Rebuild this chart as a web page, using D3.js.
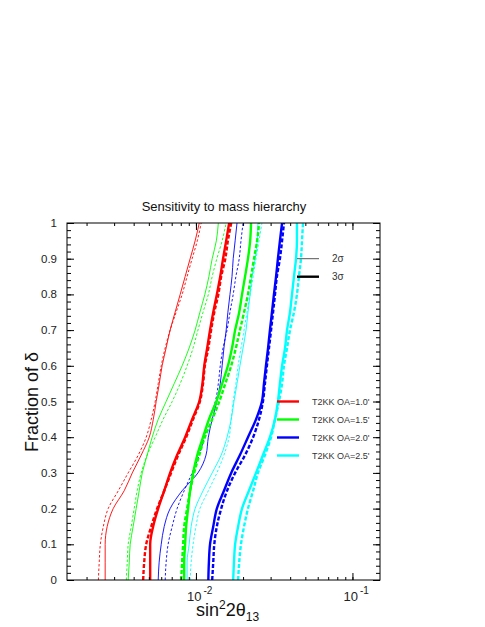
<!DOCTYPE html>
<html><head><meta charset="utf-8">
<script src="https://cdn.jsdelivr.net/npm/d3@7"></script>
<style>body{margin:0;background:#fff}svg{display:block}text{font-family:"Liberation Sans",Arial,sans-serif}</style>
</head><body><svg id="c" width="485" height="627"></svg>
<script>
// Fraction of delta (shared y samples)
const fractions = [0,0.05,0.1,0.15,0.2,0.25,0.3,0.35,0.4,0.45,0.5,0.55,0.6,0.65,0.7,0.75,0.8,0.85,0.9,0.95,1.0];

// sin^2 2theta13 values, OA=1.0 (red)
const red2sA = [0.00263,0.00263,0.00263,0.00271,0.00296,0.00348,0.00392,0.00447,0.00503,0.00534,0.00557,0.00583,0.00608,0.00645,0.00684,0.00736,0.00793,0.00853,0.00918,0.00988,0.0105];
const red2sB = [0.00238,0.00241,0.00245,0.00256,0.00275,0.00319,0.00369,0.00428,0.00481,0.00518,0.00549,0.00574,0.00600,0.00636,0.00684,0.00747,0.00816,0.00878,0.00945,0.0102,0.0108];
const red3sA = [0.00510,0.00510,0.00510,0.00533,0.00574,0.00627,0.00684,0.00758,0.00853,0.00945,0.0105,0.0110,0.0113,0.0118,0.0123,0.0129,0.0136,0.0143,0.0149,0.0156,0.0163];
const red3sB = [0.00460,0.00467,0.00481,0.00518,0.00565,0.00627,0.00694,0.00770,0.00866,0.00959,0.0106,0.0111,0.0114,0.0120,0.0125,0.0131,0.0139,0.0145,0.0154,0.0160,0.0168];
// OA=1.5 (green)
const green2sA = [0.00369,0.00375,0.00380,0.00397,0.00415,0.00434,0.00454,0.00488,0.00525,0.00574,0.00645,0.00726,0.00816,0.00905,0.00988,0.0106,0.0114,0.0121,0.0127,0.0135,0.0139];
const green2sB = [0.00359,0.00364,0.00369,0.00386,0.00403,0.00421,0.00447,0.00488,0.00549,0.00617,0.00705,0.00793,0.00878,0.00959,0.0103,0.0111,0.0120,0.0127,0.0136,0.0147,0.0156];
const green3sA = [0.00841,0.00841,0.00853,0.00866,0.00891,0.00918,0.00959,0.0102,0.0111,0.0121,0.0135,0.0147,0.0160,0.0170,0.0178,0.0189,0.0197,0.0206,0.0215,0.0222,0.0225];
const green3sB = [0.00804,0.00816,0.00828,0.00841,0.00878,0.00918,0.00974,0.0105,0.0114,0.0127,0.0141,0.0154,0.0168,0.0180,0.0191,0.0203,0.0215,0.0225,0.0235,0.0246,0.0253];
// OA=2.0 (blue)
const blue2sA = [0.00574,0.00582,0.00600,0.00627,0.00684,0.00816,0.0103,0.0116,0.0120,0.0127,0.0136,0.0143,0.0147,0.0151,0.0156,0.0160,0.0165,0.0170,0.0173,0.0178,0.0183];
const blue2sB = [0.00636,0.00645,0.00664,0.00705,0.00758,0.00841,0.00945,0.0105,0.0113,0.0121,0.0133,0.0139,0.0143,0.0149,0.0158,0.0165,0.0173,0.0180,0.0189,0.0194,0.0200];
const blue3sA = [0.0120,0.0121,0.0123,0.0129,0.0136,0.0151,0.0168,0.0191,0.0215,0.0242,0.0264,0.0272,0.0280,0.0289,0.0297,0.0306,0.0315,0.0325,0.0334,0.0344,0.0355];
const blue3sB = [0.0127,0.0129,0.0131,0.0136,0.0145,0.0158,0.0178,0.0206,0.0232,0.0253,0.0268,0.0276,0.0284,0.0293,0.0302,0.0311,0.0320,0.0329,0.0344,0.0355,0.0365];
// OA=2.5 (cyan)
const cyan2sA = [0.00878,0.00878,0.00905,0.00932,0.00988,0.0111,0.0127,0.0145,0.0158,0.0168,0.0175,0.0183,0.0191,0.0200,0.0209,0.0215,0.0222,0.0228,0.0239,0.0246,0.0249];
const cyan2sB = [0.00918,0.00932,0.00959,0.0100,0.0106,0.0120,0.0136,0.0151,0.0163,0.0168,0.0173,0.0180,0.0186,0.0194,0.0203,0.0212,0.0222,0.0232,0.0242,0.0253,0.0264];
const cyan3sA = [0.0173,0.0175,0.0178,0.0186,0.0197,0.0218,0.0242,0.0268,0.0297,0.0320,0.0334,0.0344,0.0355,0.0371,0.0382,0.0399,0.0411,0.0423,0.0436,0.0442,0.0442];
const cyan3sB = [0.0186,0.0189,0.0194,0.0203,0.0215,0.0232,0.0249,0.0276,0.0302,0.0320,0.0339,0.0355,0.0365,0.0382,0.0399,0.0423,0.0442,0.0455,0.0469,0.0476,0.0483];

const seriesNames = ["T2KK OA=1.0'","T2KK OA=1.5'","T2KK OA=2.0'","T2KK OA=2.5'"];
const seriesColors = ["#ff0000","#00ff00","#0000ff","#00ffff"];
const yTicks = [0,0.1,0.2,0.3,0.4,0.5,0.6,0.7,0.8,0.9,1];
const yTickLabels = ["0","0.1","0.2","0.3","0.4","0.5","0.6","0.7","0.8","0.9","1"];
const xMajor = [0.01,0.1];
const xMajorExp = ["-2","-1"];
const sigmaLabels = ["2σ","3σ"];

const svg = d3.select("#c");
const L=67, R=380, T=223, B=580;
const x = d3.scaleLog().domain([0.0015,0.15]).range([L,R]);
const y = d3.scaleLinear().domain([0,1]).range([B,T]);

svg.append("defs").append("clipPath").attr("id","clip")
  .append("rect").attr("x",L).attr("y",T).attr("width",R-L).attr("height",B-T);

const curves = [
  {v:red2sA,c:0,th:false,d:false},{v:red2sB,c:0,th:false,d:true},
  {v:green2sA,c:1,th:false,d:false},{v:green2sB,c:1,th:false,d:true},
  {v:blue2sA,c:2,th:false,d:false},{v:blue2sB,c:2,th:false,d:true},
  {v:cyan2sA,c:3,th:false,d:false},{v:cyan2sB,c:3,th:false,d:true},
  {v:red3sA,c:0,th:true,d:false},{v:red3sB,c:0,th:true,d:true},
  {v:green3sA,c:1,th:true,d:false},{v:green3sB,c:1,th:true,d:true},
  {v:blue3sA,c:2,th:true,d:false},{v:blue3sB,c:2,th:true,d:true},
  {v:cyan3sA,c:3,th:true,d:false},{v:cyan3sB,c:3,th:true,d:true}
];
const line = d3.line().x(d=>x(d[0])).y(d=>y(d[1])).curve(d3.curveMonotoneY);
const g = svg.append("g").attr("clip-path","url(#clip)");
curves.forEach(cv=>{
  g.append("path").datum(cv.v.map((v,i)=>[v,fractions[i]]))
   .attr("d",line).attr("fill","none")
   .attr("stroke",seriesColors[cv.c])
   .attr("stroke-width",cv.th?2.4:0.9)
   .attr("stroke-dasharray",cv.d?(cv.th?"4,2":"2.5,2"):null);
});

// Axes (ticks inward on all four sides)
const yMinor = d3.range(0,1.0001,0.02);
svg.append("g").attr("transform",`translate(${L},0)`).call(d3.axisRight(y).tickValues(yMinor).tickSize(4).tickFormat(""));
svg.append("g").attr("transform",`translate(${R},0)`).call(d3.axisLeft(y).tickValues(yMinor).tickSize(4).tickFormat(""));
svg.append("g").attr("transform",`translate(${L},0)`).call(d3.axisRight(y).tickValues(yTicks).tickSize(7).tickFormat(""));
svg.append("g").attr("transform",`translate(${R},0)`).call(d3.axisLeft(y).tickValues(yTicks).tickSize(7).tickFormat(""));
const xMinor = [];
[0.001,0.01,0.1].forEach(dec=>{for(let k=1;k<10;k++){const v=dec*k; if(v>=0.0015&&v<=0.15) xMinor.push(v);}});
svg.append("g").attr("transform",`translate(0,${B})`).call(d3.axisTop(x).tickValues(xMinor).tickSize(3).tickFormat(""));
svg.append("g").attr("transform",`translate(0,${T})`).call(d3.axisBottom(x).tickValues(xMinor).tickSize(3).tickFormat(""));
svg.append("g").attr("transform",`translate(0,${B})`).call(d3.axisTop(x).tickValues(xMajor).tickSize(7).tickFormat(""));
svg.append("g").attr("transform",`translate(0,${T})`).call(d3.axisBottom(x).tickValues(xMajor).tickSize(7).tickFormat(""));
svg.selectAll(".domain").remove();
svg.selectAll(".tick line").attr("stroke","#000").attr("stroke-width",1);
svg.append("rect").attr("x",L).attr("y",T).attr("width",R-L).attr("height",B-T)
  .attr("fill","none").attr("stroke","#000").attr("stroke-width",1);

// Y tick labels
svg.selectAll(".ylab").data(yTicks).enter().append("text")
  .attr("x",57).attr("y",d=>y(d)+4).attr("text-anchor","end")
  .attr("font-size",11.5).attr("fill","#222").text((d,i)=>yTickLabels[i]);
// X tick labels
xMajor.forEach((v,i)=>{
  const t = svg.append("text").attr("x",x(v)-9).attr("y",601).attr("font-size",13).attr("fill","#222");
  t.append("tspan").text("10");
  t.append("tspan").attr("dy",-7).attr("font-size",10).attr("dx",2).text(xMajorExp[i]);
});
// Axis titles
const xt = svg.append("text").attr("x",196).attr("y",616).attr("font-size",18).attr("fill","#111");
xt.append("tspan").text("sin");
xt.append("tspan").attr("dy",-7).attr("font-size",12).text("2");
xt.append("tspan").attr("dy",7).text("2θ");
xt.append("tspan").attr("dy",5).attr("font-size",12).text("13");
svg.append("text").attr("transform","translate(38,402) rotate(-90)").attr("text-anchor","middle")
  .attr("font-size",18).attr("fill","#111").text("Fraction of δ");
svg.append("text").attr("x",224).attr("y",211).attr("text-anchor","middle")
  .attr("font-size",13).attr("fill","#111").text("Sensitivity to mass hierarchy");

// Sigma legend
sigmaLabels.forEach((s,i)=>{
  const yy = y(0.9) + i*18;
  svg.append("line").attr("x1",297).attr("x2",319).attr("y1",yy).attr("y2",yy)
    .attr("stroke",i?"#000":"#555").attr("stroke-width",i?2.4:1);
  svg.append("text").attr("x",332).attr("y",yy+3.5).attr("font-size",10).attr("fill","#333").text(s);
});
// Series legend
seriesNames.forEach((s,i)=>{
  const yy = y(0.5) + i*18;
  svg.append("line").attr("x1",277).attr("x2",299).attr("y1",yy).attr("y2",yy)
    .attr("stroke",seriesColors[i]).attr("stroke-width",2.4);
  svg.append("text").attr("x",312).attr("y",yy+3.2).attr("font-size",9).attr("fill","#333").text(s);
});
</script></body></html>
